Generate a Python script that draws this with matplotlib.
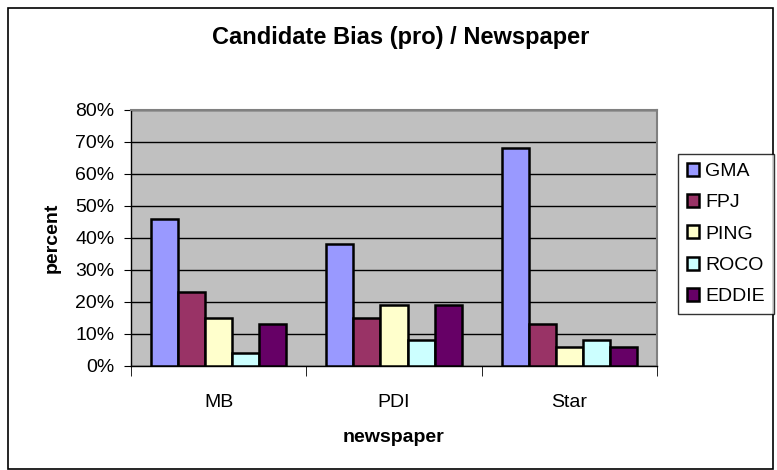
import matplotlib.pyplot as plt
import numpy as np
from matplotlib.ticker import FuncFormatter, FixedLocator

plt.rcParams['font.family'] = ['Liberation Sans', 'DejaVu Sans']

newspapers = ["MB", "PDI", "Star"]
candidates = ["GMA", "FPJ", "PING", "ROCO", "EDDIE"]
gma = [46, 38, 68]
fpj = [23, 15, 13]
ping = [15, 19, 6]
roco = [4, 8, 8]
eddie = [13, 19, 6]
colors = ["#9999FF", "#993366", "#FFFFCC", "#CCFFFF", "#660066"]

series = [gma, fpj, ping, roco, eddie]

fig = plt.figure(figsize=(7.77, 4.70), dpi=100)
ax = fig.add_axes([131 / 777, 1 - 366 / 470, (657 - 131) / 777, (366 - 110) / 470])
ax.set_facecolor("#C0C0C0")

x = np.arange(len(newspapers))
w = 0.154
for i, vals in enumerate(series):
    ax.bar(x + (i - 2) * w, vals, width=w, color=colors[i], edgecolor="black",
           linewidth=1.8, label=candidates[i], zorder=3)

ax.set_xlim(-0.5, 2.5)
ax.set_ylim(0, 80)
ax.set_yticks(np.arange(0, 81, 10))
ax.yaxis.set_major_formatter(FuncFormatter(lambda v, p: "%d%%" % v))
ax.grid(axis="y", color="black", linewidth=1, zorder=1)
ax.set_xticks(x)
ax.set_xticklabels(newspapers)
ax.tick_params(axis="x", which="major", length=0, pad=20, labelsize=14)
ax.xaxis.set_minor_locator(FixedLocator([-0.5, 0.5, 1.5, 2.5]))
ax.tick_params(axis="x", which="minor", length=7, direction="out")
ax.tick_params(axis="y", length=5, direction="out", labelsize=14, pad=7)

for s in ["top", "right"]:
    ax.spines[s].set_color("#808080")
    ax.spines[s].set_linewidth(1.5)
for s in ["left", "bottom"]:
    ax.spines[s].set_color("black")
    ax.spines[s].set_linewidth(1)

ax.set_ylabel("percent", fontsize=14, fontweight="bold", labelpad=10)
ax.set_xlabel("newspaper", fontsize=14, fontweight="bold", labelpad=13)
fig.suptitle("Candidate Bias (pro) / Newspaper", fontsize=17, fontweight="bold",
             x=0.516, y=0.945)

leg = fig.legend(loc="upper left", bbox_to_anchor=(678 / 777, 1 - 154 / 470),
                 fontsize=14, frameon=True, fancybox=False, handlelength=0.65,
                 handleheight=0.65, handletextpad=0.3, labelspacing=0.72,
                 borderpad=0.45, borderaxespad=0)
leg.get_frame().set_edgecolor("black")
leg.get_frame().set_linewidth(1)

fig.patches.append(plt.Rectangle((8 / 777, 0.002), 0.995 - 8 / 777, 0.998 - 0.002 - 7 / 470,
                                 transform=fig.transFigure, fill=False,
                                 edgecolor="black", linewidth=1.2))

fig.savefig("out.png", dpi=100)
